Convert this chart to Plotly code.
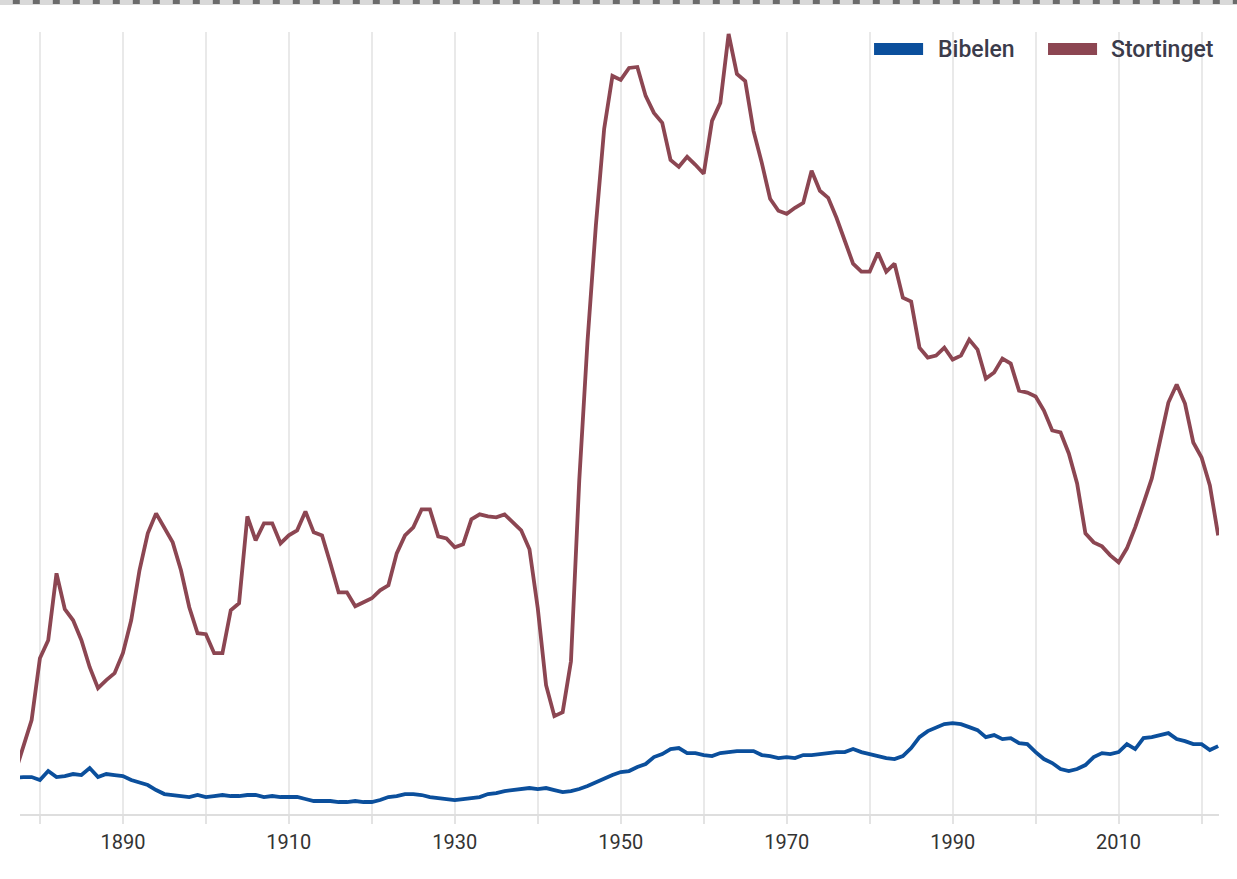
import plotly.graph_objects as go

# årstall og relative frekvenser (lest av fra bildet)
years = list(range(1877, 2023))

bibelen = [
    3.6, 3.7, 3.7, 3.4, 4.3, 3.7, 3.8, 4.0, 3.9, 4.6,
    3.7, 4.0, 3.9, 3.8, 3.4, 3.1, 2.9, 2.4, 2.0, 1.9,
    1.8, 1.7, 1.9, 1.7, 1.8, 1.9, 1.8, 1.8, 1.9, 1.9,
    1.7, 1.8, 1.7, 1.7, 1.7, 1.5, 1.3, 1.3, 1.3, 1.2,
    1.2, 1.3, 1.2, 1.2, 1.4, 1.7, 1.8, 2.0, 2.0, 1.9,
    1.7, 1.6, 1.5, 1.4, 1.5, 1.6, 1.7, 2.0, 2.1, 2.3,
    2.4, 2.5, 2.6, 2.5, 2.6, 2.4, 2.2, 2.3, 2.5, 2.8,
    3.2, 3.6, 3.9, 4.2, 4.3, 4.7, 5.0, 5.7, 6.0, 6.5,
    6.6, 6.1, 6.1, 5.9, 5.8, 6.1, 6.2, 6.3, 6.3, 6.3,
    5.9, 5.8, 5.6, 5.7, 5.6, 5.9, 5.9, 6.0, 6.1, 6.2,
    6.2, 6.5, 6.2, 6.0, 5.8, 5.6, 5.5, 5.8, 6.6, 7.7,
    8.3, 8.6, 9.0, 9.1, 9.0, 8.7, 8.4, 7.7, 7.9, 7.5,
    7.6, 7.1, 7.0, 6.2, 5.5, 5.1, 4.5, 4.3, 4.5, 4.9,
    5.7, 6.1, 6.0, 6.2, 7.0, 6.5, 7.6, 7.7, 7.9, 8.1,
    7.5, 7.3, 7.0, 7.0, 6.4, 6.8,
]

stortinget = [
    4.1, 6.7, 9.4, 15.6, 17.4, 24.1, 20.5, 19.4, 17.4, 14.7,
    12.6, 13.4, 14.1, 16.1, 19.4, 24.4, 28.1, 30.1, 28.6, 27.2,
    24.4, 20.7, 18.1, 18.0, 16.1, 16.1, 20.4, 21.1, 29.8, 27.4,
    29.1, 29.1, 27.1, 27.9, 28.4, 30.3, 28.2, 27.9, 25.1, 22.2,
    22.2, 20.8, 21.2, 21.6, 22.4, 22.9, 26.1, 27.9, 28.7, 30.5,
    30.5, 27.8, 27.6, 26.7, 27.0, 29.5, 30.0, 29.8, 29.7, 30.0,
    29.2, 28.4, 26.5, 20.6, 12.9, 9.8, 10.2, 15.3, 33.4, 47.4,
    58.9, 68.6, 73.9, 73.5, 74.7, 74.8, 71.9, 70.2, 69.2, 65.5,
    64.8, 65.8, 65.0, 64.1, 69.4, 71.2, 78.1, 74.1, 73.4, 68.4,
    65.2, 61.6, 60.4, 60.1, 60.7, 61.2, 64.4, 62.4, 61.7, 59.7,
    57.4, 55.1, 54.3, 54.3, 56.2, 54.3, 55.1, 51.7, 51.3, 46.7,
    45.7, 45.9, 46.7, 45.5, 45.9, 47.5, 46.5, 43.6, 44.2, 45.6,
    45.1, 42.4, 42.2, 41.8, 40.4, 38.4, 38.2, 36.1, 33.1, 28.1,
    27.2, 26.8, 25.9, 25.2, 26.6, 28.7, 31.1, 33.6, 37.4, 41.2,
    43.0, 41.1, 37.2, 35.7, 32.9, 27.9,
]

serier = ["Bibelen", "Stortinget"]
farger = ["#0b4f9c", "#8c4652"]

tick_years = list(range(1880, 2021, 10))
tick_labels = [str(y) if (y - 1890) % 20 == 0 else "" for y in tick_years]

fig = go.Figure()
for navn, verdier, farge in zip(serier, [bibelen, stortinget], farger):
    fig.add_trace(go.Scatter(
        x=years, y=verdier, mode="lines", name=navn,
        line=dict(color=farge, width=3.8), showlegend=False,
    ))

# egen forklaring (tykke fargefelt som i originalen)
legend_pos = [(0.7123, 0.7640), (0.8574, 0.9083)]
for (x0, xt), navn, farge in zip(legend_pos, serier, farger):
    fig.add_shape(type="rect", xref="paper", yref="paper",
                  x0=x0, x1=x0 + 0.0409, y0=0.9706, y1=0.9859,
                  fillcolor=farge, line_width=0)
    fig.add_annotation(xref="paper", yref="paper", x=xt, y=0.9775,
                       text=navn, showarrow=False, xanchor="left",
                       yanchor="middle",
                       font=dict(family="Roboto", size=23, color="#3b3b4a",
                                 weight=500))

# prikket kant øverst på siden
fig.add_shape(type="rect", xref="paper", yref="paper",
              x0=-0.02, x1=1.02, y0=1 + 27 / 782, y1=1 + 34 / 782,
              fillcolor="#d9d9d9", line_width=0, layer="above")
fig.add_shape(type="line", xref="paper", yref="paper",
              x0=-0.006, x1=1.02, y0=1 + 32 / 782, y1=1 + 32 / 782,
              line=dict(color="#6b6b6b", width=8, dash="7px,13px"),
              layer="above")

fig.update_layout(
    width=1237, height=879,
    margin=dict(l=20, r=18, t=32, b=65),
    paper_bgcolor="white", plot_bgcolor="white",
    font=dict(family="Roboto", color="#333333"),
)
fig.update_xaxes(
    range=[1877.6, 2022.1],
    tickvals=tick_years, ticktext=tick_labels,
    showgrid=True, gridcolor="#e9e9e9", gridwidth=1.5,
    showline=True, linecolor="#dedede", linewidth=2,
    ticks="outside", ticklen=8, tickcolor="#e3e3e3", tickwidth=1.5,
    ticklabelstandoff=1,
    tickfont=dict(family="Roboto", size=20, color="#333333"),
    zeroline=False,
)
fig.update_yaxes(
    range=[0, 78.3], showgrid=False, showticklabels=False,
    zeroline=False, showline=False,
)

# siden skal ikke ha standardmarg rundt figuren
fig.write_html("out.html", config={"displayModeBar": False},
               post_script="document.body.style.margin='0';")
